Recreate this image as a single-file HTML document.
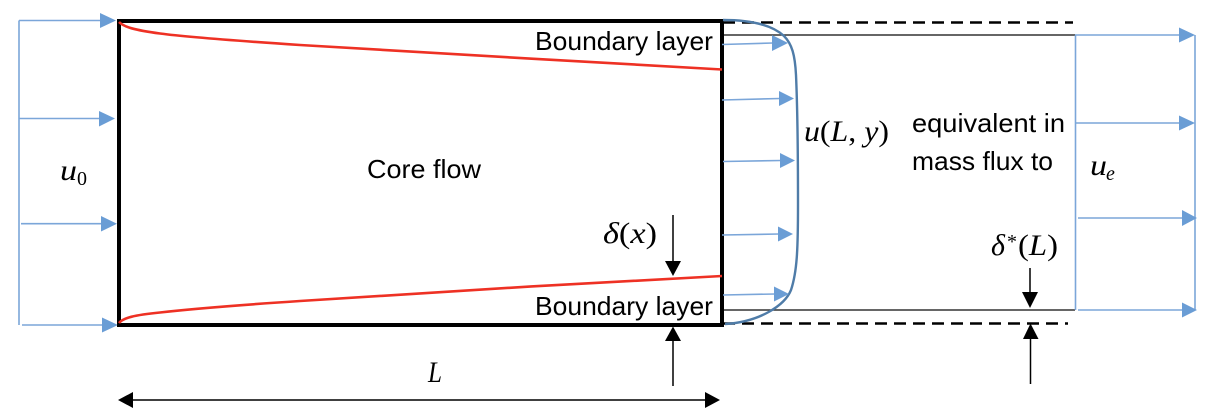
<!DOCTYPE html>
<html>
<head>
<meta charset="utf-8">
<style>
html,body{margin:0;padding:0;background:#fff;}
svg{display:block;}
.t{font-family:"Liberation Sans",sans-serif;font-size:26px;fill:#000;}
.m{font-family:"Liberation Serif",serif;font-size:30px;fill:#000;}
.i{font-style:italic;}
</style>
</head>
<body>
<svg width="1230" height="410" viewBox="0 0 1230 410" xmlns="http://www.w3.org/2000/svg">
<rect width="1230" height="410" fill="#fff"/>

<!-- inlet velocity -->
<g stroke="#7ba6d9" stroke-width="1.6" fill="none">
<path d="M19 20.5V325"/>
<path d="M19 20.5H101"/>
<path d="M19 118.5H100"/>
<path d="M21 223.7H102"/>
<path d="M22 325H103"/>
</g>
<g fill="#6a9dd5">
<path d="M100 13V28L116 20.5Z"/>
<path d="M99 111V126.5L115 118.5Z"/>
<path d="M101 216V231.5L117 223.7Z"/>
<path d="M102 317.5V332.5L118 325Z"/>
</g>

<!-- equivalent lines -->
<path d="M723 35H1075" stroke="#333" stroke-width="1.5" fill="none"/>
<path d="M723 310H1075" stroke="#333" stroke-width="1.5" fill="none"/>
<path d="M723 22.5H1073" stroke="#000" stroke-width="2.5" stroke-dasharray="12 7" fill="none"/>
<path d="M723 323.5H1068" stroke="#000" stroke-width="2.5" stroke-dasharray="12 7" fill="none"/>

<!-- main box -->
<rect x="119" y="21" width="603" height="304" fill="none" stroke="#000" stroke-width="4"/>

<!-- boundary layer edges -->
<path d="M119 22C124 27 134 30 160 33.500C190 37.500 240 41 300 45C400 52 600 62 722 69.500" stroke="#ee3124" stroke-width="2.6" fill="none"/>
<path d="M119 323C123 318 134 315 160 312.500C190 309 240 305 300 301C400 294 600 282 722 276" stroke="#ee3124" stroke-width="2.6" fill="none"/>

<!-- velocity profile -->
<path d="M723 20C750 20 772 25 784 36C792 44 795 55 796 75C798 120 798 170 798 205C798 250 797 272 791 290C785 305 760 322 725 324" stroke="#4f7ca8" stroke-width="2.4" fill="none"/>

<!-- profile arrows -->
<g stroke="#7ba6d9" stroke-width="1.6" fill="none">
<path d="M722 44.500L773 43"/>
<path d="M722 100L780 98.500"/>
<path d="M723 161.500L781 160.500"/>
<path d="M722 235L779 234"/>
<path d="M723 295L775 294"/>
</g>
<g fill="#6a9dd5">
<path d="M772 35V51L788 43Z"/>
<path d="M779 91V106L794 98.500Z"/>
<path d="M780 153V168L795 160.500Z"/>
<path d="M778 226.500V241.500L793 234Z"/>
<path d="M774 286.500V301.500L789 294Z"/>
</g>

<!-- outlet velocity -->
<g stroke="#7ba6d9" stroke-width="1.6" fill="none">
<path d="M1075.500 35V310"/>
<path d="M1195 35V310"/>
<path d="M1075 35H1180"/>
<path d="M1075 123H1180"/>
<path d="M1078 218H1182"/>
<path d="M1078 310H1182"/>
</g>
<g fill="#6a9dd5">
<path d="M1179 27.500V42.500L1195 35Z"/>
<path d="M1179 115.500V130.500L1195 123Z"/>
<path d="M1182 210V226L1197 218Z"/>
<path d="M1182 302.500V317.500L1197 310Z"/>
</g>

<!-- black arrows -->
<g stroke="#000" stroke-width="1.5" fill="none">
<path d="M673 215V262"/>
<path d="M673 386V340"/>
<path d="M1030 268V293"/>
<path d="M1030.500 384V338"/>
<path d="M132 400H706"/>
</g>
<g fill="#000">
<path d="M665 261H681L673 276Z"/>
<path d="M665 341H681L673 326.500Z"/>
<path d="M1022 292H1038L1030 308Z"/>
<path d="M1023 339H1038.500L1030.500 323.500Z"/>
<path d="M118 400L133 392V408Z"/>
<path d="M720 400L705 392V408Z"/>
</g>

<!-- labels -->
<text class="t" x="535" y="50" textLength="178" lengthAdjust="spacingAndGlyphs">Boundary layer</text>
<text class="t" x="535" y="315" textLength="178" lengthAdjust="spacingAndGlyphs">Boundary layer</text>
<text class="t" x="367" y="178" textLength="114" lengthAdjust="spacingAndGlyphs">Core flow</text>
<text class="t" x="912" y="132" textLength="153" lengthAdjust="spacingAndGlyphs">equivalent in</text>
<text class="t" x="912" y="170" textLength="141" lengthAdjust="spacingAndGlyphs">mass flux to</text>

<text class="m i" x="60" y="180" textLength="17" lengthAdjust="spacingAndGlyphs">u</text>
<text class="m" x="77" y="185" style="font-size:20px">0</text>
<text class="m" x="804" y="141" textLength="85" lengthAdjust="spacingAndGlyphs"><tspan class="i">u</tspan>(<tspan class="i">L</tspan>, <tspan class="i">y</tspan>)</text>
<text class="m i" x="1090" y="175" textLength="17" lengthAdjust="spacingAndGlyphs">u</text>
<text class="m i" x="1106" y="180" style="font-size:20px">e</text>
<text class="m" x="603" y="243" textLength="54" lengthAdjust="spacingAndGlyphs"><tspan class="i">δ</tspan>(<tspan class="i">x</tspan>)</text>
<text class="m i" x="991" y="255">δ</text>
<text class="m" x="1007" y="248" style="font-size:20px">*</text>
<text class="m" x="1018" y="255" textLength="40" lengthAdjust="spacingAndGlyphs">(<tspan class="i">L</tspan>)</text>
<text class="m i" x="428" y="382" textLength="14" lengthAdjust="spacingAndGlyphs">L</text>
</svg>
</body>
</html>
